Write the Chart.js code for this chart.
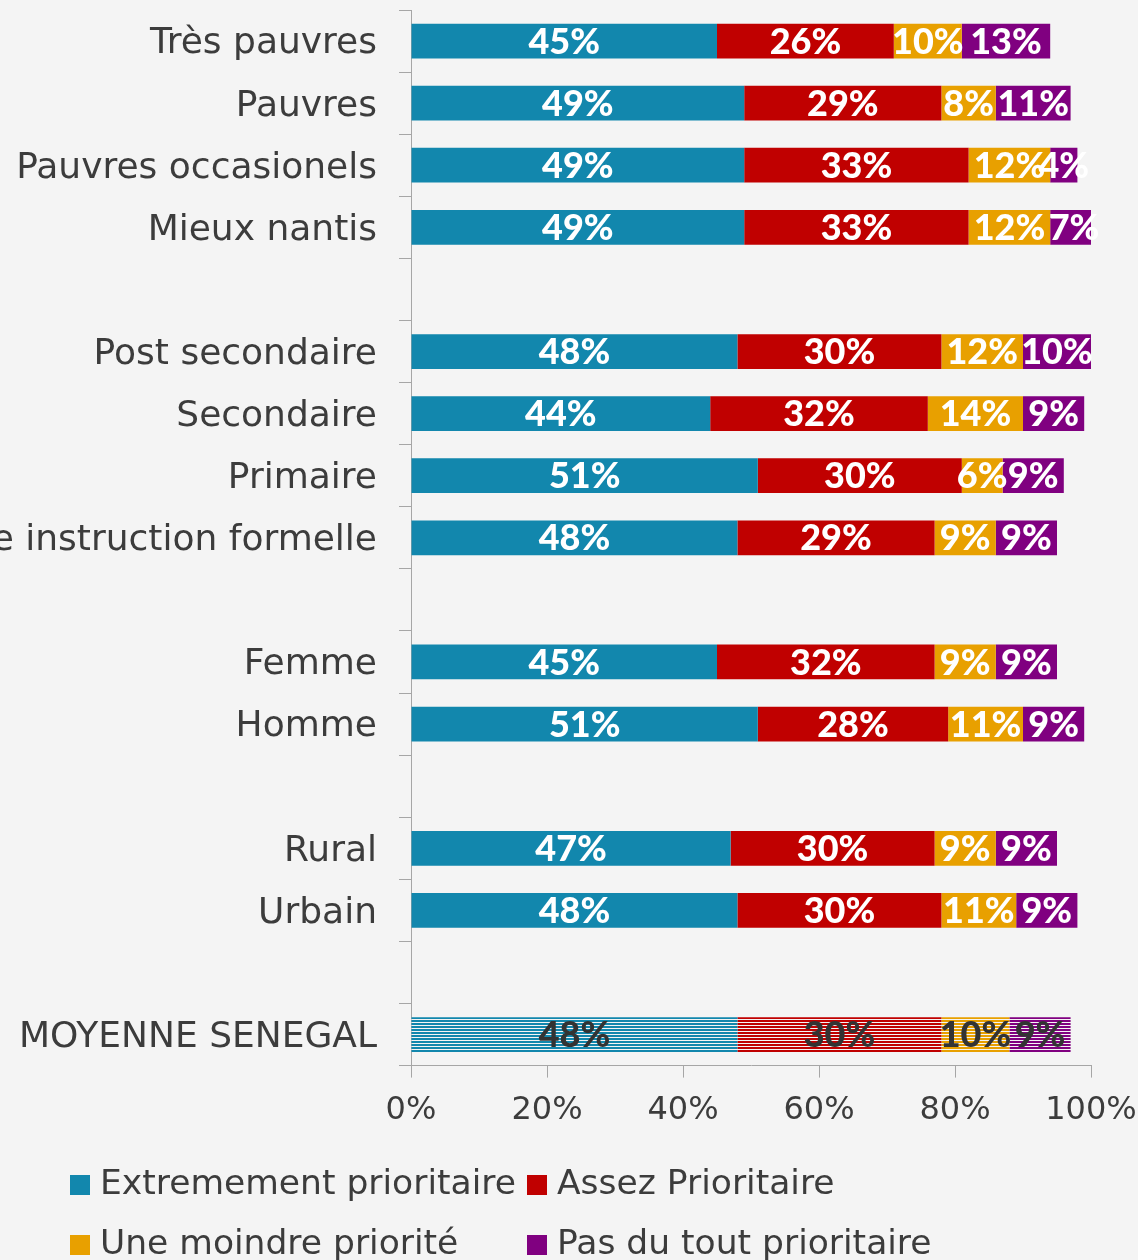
<!DOCTYPE html>
<html>
<head>
<meta charset="utf-8">
<script src="https://cdn.jsdelivr.net/npm/chart.js@4.4.1/dist/chart.umd.min.js"></script>
<style>
  html, body { margin: 0; padding: 0; background: #f4f4f4; }
  #wrap { position: relative; width: 1138px; height: 1260px; overflow: hidden; }
  #chart { position: absolute; left: 0; top: 0; }
  .leg { position: absolute; font-family: "DejaVu Sans", sans-serif; font-size: 34.5px; color: #3c3c3c; white-space: nowrap; line-height: 40px; }
  .leg span.box { display: inline-block; width: 20px; height: 20px; margin-right: 10px; vertical-align: -1px; }
</style>
</head>
<body>
<div id="wrap">
  <canvas id="chart" width="1138" height="1260"></canvas>
  <div id="legend"></div>
</div>
<script>
// categories, blank entries are the gaps between groups
const categories = [
  'Très pauvres', 'Pauvres', 'Pauvres occasionels', 'Mieux nantis', '',
  'Post secondaire', 'Secondaire', 'Primaire', 'Aucune instruction formelle', '',
  'Femme', 'Homme', '',
  'Rural', 'Urbain', '',
  'MOYENNE SENEGAL'
];

const seriesNames = ['Extremement prioritaire', 'Assez Prioritaire', 'Une moindre priorité', 'Pas du tout prioritaire'];
const seriesColors = ['#1287ad', '#c00000', '#e8a000', '#800080'];

const extremement = [45, 49, 49, 49, null, 48, 44, 51, 48, null, 45, 51, null, 47, 48, null, 48];
const assez       = [26, 29, 33, 33, null, 30, 32, 30, 29, null, 32, 28, null, 30, 30, null, 30];
const moindre     = [10,  8, 12, 12, null, 12, 14,  6,  9, null,  9, 11, null,  9, 11, null, 10];
const pasDuTout   = [13, 11,  4,  7, null, 10,  9,  9,  9, null,  9,  9, null,  9,  9, null,  9];

const xTicks = [0, 20, 40, 60, 80, 100];

const averageIndex = categories.length - 1;

// striped fill for the national average row
function stripes(color) {
  const c = document.createElement('canvas');
  c.width = 4; c.height = 3;
  const g = c.getContext('2d');
  g.fillStyle = '#f4f4f4';
  g.fillRect(0, 0, 4, 3);
  g.fillStyle = color;
  g.fillRect(0, 0, 4, 2);
  return g.createPattern(c, 'repeat');
}

function fills(color) {
  return categories.map((c, i) => i === averageIndex ? stripes(color) : color);
}

const valueLabels = {
  id: 'valueLabels',
  afterDatasetsDraw(chart) {
    const ctx = chart.ctx;
    ctx.save();
    ctx.font = '900 36px Lato, "DejaVu Sans", sans-serif';
    ctx.textAlign = 'center';
    ctx.textBaseline = 'middle';
    chart.data.datasets.forEach((ds, di) => {
      const meta = chart.getDatasetMeta(di);
      meta.data.forEach((bar, i) => {
        const v = ds.data[i];
        if (v === null || v === undefined) return;
        const p = bar.getProps(['x', 'base', 'y'], true);
        ctx.fillStyle = i === averageIndex ? '#333333' : '#ffffff';
        ctx.fillText(v + '%', (p.x + p.base) / 2, p.y + 1);
      });
    });
    ctx.restore();
  }
};

const seriesData = [extremement, assez, moindre, pasDuTout];

const chart = new Chart(document.getElementById('chart'), {
  type: 'bar',
  data: {
    labels: categories,
    datasets: seriesData.map((d, k) => ({
      label: seriesNames[k],
      data: d,
      backgroundColor: fills(seriesColors[k]),
      borderWidth: 0,
      categoryPercentage: 1,
      barPercentage: 0.56
    }))
  },
  options: {
    indexAxis: 'y',
    responsive: false,
    animation: false,
    layout: { padding: { top: 10, right: 47, left: 0, bottom: 116 } },
    plugins: {
      legend: { display: false },
      tooltip: { enabled: false }
    },
    scales: {
      x: {
        stacked: true,
        min: 0,
        max: 100,
        afterBuildTicks: s => { s.ticks = xTicks.map(v => ({ value: v })); },
        afterFit: s => { s.paddingLeft = 0; s.paddingRight = 0; },
        ticks: {
          callback: v => v + '%',
          font: { family: 'DejaVu Sans', size: 32 },
          color: '#3c3c3c',
          padding: 14,
          maxRotation: 0
        },
        grid: { drawOnChartArea: false, tickLength: 12, color: '#a6a6a6' },
        border: { color: '#a6a6a6', width: 1 }
      },
      y: {
        stacked: true,
        afterFit: s => { s.width = 411; s.paddingTop = 0; s.paddingBottom = 0; },
        ticks: {
          font: { family: 'DejaVu Sans', size: 36 },
          color: '#3c3c3c',
          padding: 22,
          labelOffset: 3,
          autoSkip: false
        },
        grid: { drawOnChartArea: false, tickLength: 12, color: '#a6a6a6', offset: true },
        border: { color: '#a6a6a6', width: 1 }
      }
    }
  },
  plugins: [valueLabels]
});

// legend, 2 x 2 grid
const legendPos = [[70, 1162], [527, 1162], [70, 1222], [527, 1222]];
const legendEl = document.getElementById('legend');
chart.data.datasets.forEach((ds, k) => {
  const item = document.createElement('div');
  item.className = 'leg';
  item.style.left = legendPos[k][0] + 'px';
  item.style.top = legendPos[k][1] + 'px';
  item.innerHTML = '<span class="box" style="background:' + seriesColors[k] + '"></span>' + ds.label;
  legendEl.appendChild(item);
});
</script>
</body>
</html>
